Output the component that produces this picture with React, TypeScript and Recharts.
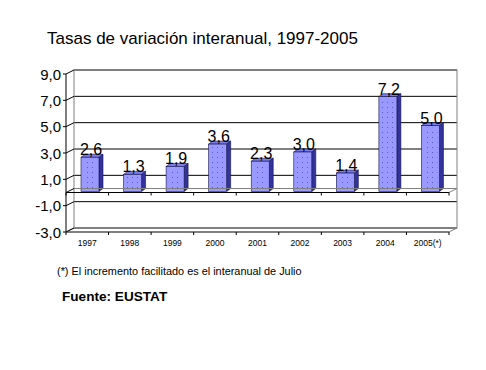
import React from "react";
import {
  BarChart,
  Bar,
  XAxis,
  YAxis,
  CartesianGrid,
  ReferenceArea,
  ReferenceLine,
  LabelList,
} from "recharts";

const years = ["1997", "1998", "1999", "2000", "2001", "2002", "2003", "2004", "2005(*)"];
const tasas = [2.6, 1.3, 1.9, 3.6, 2.3, 3.0, 1.4, 7.2, 5.0];
const yTicks = [-3, -1, 1, 3, 5, 7, 9];

const data = years.map((y, i) => ({ name: y, tasa: tasas[i] }));

// 3D look: front plane shifted left/down from the back wall
const DX = -8;
const DY = 4;
const FONT = "'Liberation Sans', Arial, sans-serif";

const fmt = (v: number) => v.toFixed(1).replace(".", ",");

const Bar3D = (props: any) => {
  const { x, y, width, height } = props;
  const fx = x - 5;
  const fy = y + 3;
  const d = 4;
  return (
    <g>
      <polygon
        points={`${fx},${fy} ${fx + d},${fy - 3} ${fx + width + d},${fy - 3} ${fx + width},${fy}`}
        fill="#7b7bea"
        stroke="#141450"
        strokeWidth={0.6}
      />
      <polygon
        points={`${fx + width},${fy} ${fx + width + d},${fy - 3} ${fx + width + d},${fy + height - 3} ${fx + width},${fy + height}`}
        fill="#33339c"
        stroke="#141450"
        strokeWidth={0.6}
      />
      <rect x={fx} y={fy} width={width} height={height} fill="#9999ff" stroke="#141450" strokeWidth={0.6} />
      <rect x={fx + 2} y={fy + 2} width={width - 4} height={Math.max(0, height - 4)} fill="url(#dots)" />
    </g>
  );
};

const YTick = (props: any) => {
  const { x, y, payload } = props;
  return (
    <g>
      <line x1={x + DX - 3} y1={y + DY} x2={x + DX} y2={y + DY} stroke="#000" />
      <line x1={x + DX} y1={y + DY} x2={x} y2={y} stroke="#000" />
      <text x={x - 13} y={y + DY + 5.5} textAnchor="end" fontSize={15} fontFamily={FONT} fill="#000">
        {fmt(payload.value)}
      </text>
    </g>
  );
};

const XTick = (props: any) => {
  const { x, y, payload } = props;
  return (
    <text x={x + DX} y={y + 18} textAnchor="middle" fontSize={8.5} fontFamily={FONT} fill="#000">
      {payload.value}
    </text>
  );
};

const Walls = (props: any) => {
  const { x, y, width, height } = props;
  const n = years.length;
  const bw = width / n;
  const b = y + height;
  return (
    <g fill="none">
      <rect x={x} y={y} width={width} height={height} stroke="#808080" />
      <line x1={x + DX} y1={y + DY} x2={x + DX} y2={b + DY} stroke="#000" />
      <line x1={x + DX} y1={b + DY} x2={x + width + DX} y2={b + DY} stroke="#000" />
      <line x1={x} y1={b} x2={x + DX} y2={b + DY} stroke="#808080" />
      <line x1={x + width} y1={b} x2={x + width + DX} y2={b + DY} stroke="#808080" />
      {Array.from({ length: n + 1 }, (_, i) => (
        <line key={i} x1={x + DX + i * bw} y1={b + DY} x2={x + DX + i * bw} y2={b + DY + 3} stroke="#000" />
      ))}
    </g>
  );
};

const Floor = (props: any) => {
  const { x1, y1, x2, y2 } = props;
  const n = years.length;
  const bw = (x2 - x1) / n;
  return (
    <g fill="none">
      <line x1={x1} y1={y1} x2={x2} y2={y2} stroke="#808080" />
      <line x1={x1 + DX} y1={y1 + DY} x2={x2 + DX} y2={y2 + DY} stroke="#000" />
      <line x1={x1} y1={y1} x2={x1 + DX} y2={y1 + DY} stroke="#000" />
      <line x1={x2} y1={y2} x2={x2 + DX} y2={y2 + DY} stroke="#808080" />
      {Array.from({ length: n + 1 }, (_, i) => (
        <line key={i} x1={x1 + DX + i * bw} y1={y1 + DY} x2={x1 + DX + i * bw} y2={y1 + DY + 3} stroke="#000" />
      ))}
    </g>
  );
};

const BarLabel = (props: any) => {
  const { x, y, width, value } = props;
  return (
    <text x={x + width / 2 - 4} y={y + 1} textAnchor="middle" fontSize={16} fontFamily={FONT} fill="#000">
      {fmt(value)}
    </text>
  );
};

export default function App() {
  return (
    <div style={{ position: "absolute", left: 0, top: 0, width: 486, height: 370, background: "#fff" }}>
      <svg width={0} height={0} style={{ position: "absolute" }}>
        <defs>
          <pattern id="dots" width={5} height={5} patternUnits="userSpaceOnUse">
            <rect x={2} y={2} width={1} height={1} fill="#5a5ad0" />
          </pattern>
        </defs>
      </svg>
      <BarChart
        width={486}
        height={370}
        data={data}
        margin={{ top: 70, right: 29, bottom: 122, left: 0 }}
        barSize={18}
      >
        <CartesianGrid horizontal vertical={false} stroke="#000" />
        <ReferenceArea y1={-3} y2={9} shape={<Walls />} ifOverflow="visible" />
        <ReferenceLine y={0} shape={<Floor />} />
        <XAxis
          dataKey="name"
          height={20}
          tickSize={0}
          tickMargin={0}
          axisLine={false}
          tickLine={false}
          interval={0}
          tick={<XTick />}
        />
        <YAxis
          width={74}
          domain={[-3, 9]}
          ticks={yTicks}
          tickSize={0}
          tickMargin={0}
          axisLine={false}
          tickLine={false}
          tick={<YTick />}
        />
        <Bar dataKey="tasa" shape={<Bar3D />} isAnimationActive={false}>
          <LabelList dataKey="tasa" content={<BarLabel />} />
        </Bar>
      </BarChart>
      <svg width={486} height={370} style={{ position: "absolute", left: 0, top: 0, pointerEvents: "none" }}>
        <text x={47} y={44} fontSize={17} fontFamily={FONT} fill="#000">
          Tasas de variación interanual, 1997-2005
        </text>
        <text x={57} y={275} fontSize={10.9} fontFamily={FONT} fill="#000">
          (*) El incremento facilitado es el interanual de Julio
        </text>
        <text x={62} y={301} fontSize={13.6} fontWeight="bold" fontFamily={FONT} fill="#000">
          Fuente: EUSTAT
        </text>
      </svg>
    </div>
  );
}
